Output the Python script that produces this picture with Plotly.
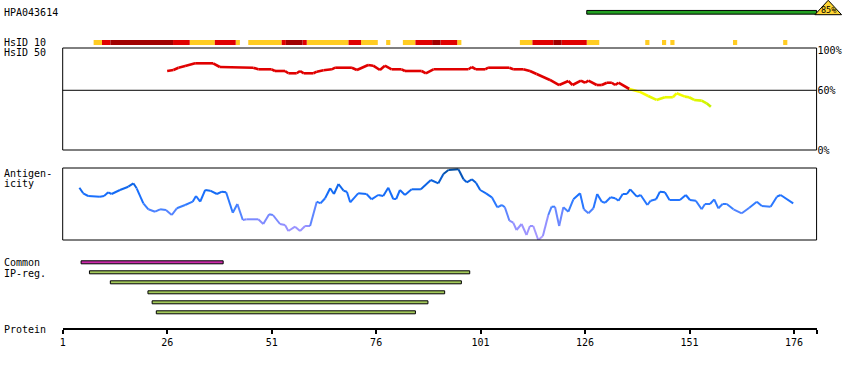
import plotly.graph_objects as go

# ---------------- data ----------------
PROTEIN_LENGTH = 181
TICK_VALUES = [1, 26, 51, 76, 101, 126, 151, 176]
TICK_LABELS = [str(v) for v in TICK_VALUES]

ANTIGEN_NAME = "HPA043614"
ANTIGEN_START = 126
ANTIGEN_END = 181
ANTIGEN_IDENTITY = "85%"

# HsID 10 track: segments (start, end residue) and identity level
HSID10_START = [8, 10, 12, 27, 31, 37, 42, 45, 53, 54, 58, 59, 69, 72, 78, 82, 85, 89, 91, 95,
                110, 113, 118, 120, 126, 140, 144, 146, 161, 173]
HSID10_END = [10, 12, 27, 31, 37, 42, 43, 53, 54, 58, 59, 69, 72, 76, 79, 85, 89, 91, 95, 96,
              113, 118, 120, 126, 129, 141, 145, 147, 162, 174]
HSID10_LEVEL = ["low", "mid", "high", "mid", "low", "mid", "low", "low", "mid", "high", "mid", "low",
                "mid", "low", "low", "low", "mid", "high", "mid", "low", "low", "mid", "high", "mid",
                "low", "low", "low", "low", "low", "low"]

# HsID 50 identity curve (%)
HSID50_RES = [26.0, 27.5, 28.7, 30.3, 32.7, 37.0, 38.6, 46.6, 47.8, 51.0, 51.8, 54.2, 55.0, 57.0,
              57.8, 58.7, 61.0, 61.8, 63.4, 65.4, 66.2, 70.2, 71.4, 74.1, 75.3, 76.9, 78.1, 79.7,
              82.1, 82.9, 86.9, 87.9, 89.7, 98.1, 98.9, 99.9, 102.1, 102.8, 107.9, 108.8, 111.2,
              112.8, 114.4, 117.6, 119.8, 122.0, 123.0, 125.0, 126.0, 126.8, 128.8, 130.0, 131.2,
              132.4, 133.2, 134.0, 136.6, 139.0, 141.1, 143.1, 145.1, 147.0, 147.9, 149.9, 150.9,
              152.1, 153.9, 155.1, 156.1]
HSID50_PCT = [79.4, 80.4, 82.7, 84.4, 87.1, 87.1, 83.4, 82.7, 81.1, 81.1, 79.4, 79.4, 77.1, 77.1,
              79.4, 77.1, 77.1, 78.7, 80.1, 81.1, 82.7, 82.7, 80.4, 85.4, 84.7, 80.4, 84.7, 81.1,
              81.1, 79.4, 79.4, 77.1, 81.1, 81.1, 83.4, 81.1, 81.1, 82.7, 82.7, 81.1, 81.1,
              79.4, 76.4, 70.4, 65.3, 69.3, 65.3, 69.7, 67.6, 69.7, 65.3, 65.3, 67.6,
              67.6, 65.3, 67.6, 61.3, 58.6, 54.3, 50.3, 53.0, 53.0, 57.0, 53.6, 53.0,
              50.3, 49.6, 46.9, 43.5]

# Antigenicity profile (arbitrary units, 0-72)
ANTIGENICITY_RES = [5.0, 5.9, 7.1, 9.9, 10.9, 11.9, 12.7, 14.7, 16.7, 17.9, 18.7, 20.3, 21.5, 23.1,
                    24.3, 25.7, 27.1, 28.3, 30.3, 32.1, 32.9, 33.9, 35.1, 36.3, 37.9, 39.1, 40.1,
                    41.7, 42.8, 44.1, 45.0, 47.8, 49.0, 50.4, 51.3, 53.0, 54.2, 55.0, 56.6, 57.8,
                    59.0, 60.2, 61.8, 62.7, 63.8, 65.0, 65.9, 67.0, 68.2, 69.0, 69.8, 71.7, 73.7,
                    74.9, 76.5, 77.7, 78.9, 80.1, 80.8, 81.7, 82.9, 84.5, 86.7, 89.1, 90.9, 92.1,
                    93.3, 95.7, 96.9, 97.7, 98.9, 99.9, 100.9, 102.3, 103.7, 105.0, 106.1, 106.8,
                    107.9, 108.8, 109.6, 110.8, 112.0, 112.8, 113.6, 114.8, 115.9, 117.2, 118.0,
                    118.8, 119.8, 120.8, 122.0, 123.2, 124.8, 125.7, 126.8, 128.0, 128.9, 130.0,
                    130.8, 132.1, 133.2, 134.0, 135.0, 136.0, 136.8, 138.4, 139.3, 140.9, 141.7,
                    143.0, 143.9, 145.1, 146.2, 148.7, 150.1, 151.1, 152.5, 153.9, 154.7, 155.9,
                    156.9, 157.9, 158.9, 159.9, 161.5, 163.5, 165.3, 167.1, 168.3, 170.4, 171.9,
                    172.8, 175.8]
ANTIGENICITY_VAL = [52.3, 46.7, 44.0, 43.3, 44.0, 47.7, 46.0, 50.0, 53.3, 56.7, 51.7, 36.7, 30.7, 28.3,
                    30.7, 30.0, 25.0, 31.7, 35.0, 38.3, 44.0, 38.3, 50.0, 49.3, 46.0, 48.3, 47.7,
                    27.3, 36.0, 20.0, 20.7, 20.7, 16.0, 25.7, 25.0, 16.0, 15.0, 9.0, 13.3, 9.0,
                    14.0, 14.0, 38.3, 36.7, 41.7, 51.7, 46.0, 56.0, 49.3, 48.3, 37.7, 46.7, 46.0,
                    40.7, 45.0, 44.0, 52.3, 41.0, 41.0, 50.0, 45.0, 50.7, 50.7, 60.0, 56.7, 66.0,
                    70.0, 70.7, 60.7, 57.7, 60.7, 57.3, 50.0, 46.7, 42.7, 32.7, 35.0, 32.7,
                    19.3, 17.3, 10.0, 16.0, 5.0, 14.0, 14.0, 0.0, 4.0, 25.0, 33.3,
                    33.3, 14.0, 32.7, 28.3, 40.7, 46.7, 30.7, 26.7, 31.7, 46.0, 38.3,
                    37.3, 42.7, 41.7, 39.3, 46.0, 46.0, 50.7, 43.3, 45.0, 35.0, 39.3,
                    40.7, 48.3, 47.7, 40.0, 40.0, 45.0, 40.0, 39.3, 30.7, 36.0, 36.0,
                    40.7, 31.7, 36.0, 36.0, 30.7, 26.7, 32.3, 38.3, 34.0, 33.3, 43.3,
                    45.0, 36.7]

# Common IP-regions
COMMON_START = [5]
COMMON_END = [39]
IPREG_START = [7, 12, 21, 22, 23]
IPREG_END = [98, 96, 92, 88, 85]

# ---------------- layout / style constants ----------------
W, H = 850, 370
X_LEFT_PX = 62.7      # pixel of residue 1
PX_PER_RES = 4.179
EDGE = 0.4            # residue-edge offset of drawn segments
FONT = "DejaVu Sans Mono"

HSID10_COLORS = {"low": "#FFCC22", "mid": "#E00000", "high": "#A00000"}
MAGENTA = "#CC2AAA"
LIGHT_GREEN = "#A3C95A"
ANTIGEN_GREEN = "#22A022"

# track rows (pixel units on the track axis)
ROW_ANTIGEN = 12.3
ROW_HSID10 = 42.5
ROW_COMMON = 262.3
ROW_STEP = 10

x_range = [1 - X_LEFT_PX / PX_PER_RES, 1 + (W - X_LEFT_PX) / PX_PER_RES]
ruler_end = PROTEIN_LENGTH + EDGE
ruler_right_px = X_LEFT_PX + (ruler_end - 1) * PX_PER_RES


def px_to_paper_y(py):
    return 1 - py / H


def lerp_color(stops, t):
    t = max(0.0, min(1.0, t))
    for (t0, c0), (t1, c1) in zip(stops[:-1], stops[1:]):
        if t <= t1:
            f = (t - t0) / (t1 - t0) if t1 > t0 else 0
            rgb = [round(a + (b - a) * f) for a, b in zip(c0, c1)]
            return "rgb({},{},{})".format(*rgb)
    c = stops[-1][1]
    return "rgb({},{},{})".format(*c)


AG_STOPS = [(0.0, (180, 160, 255)), (0.25, (138, 140, 255)), (0.45, (60, 128, 255)),
            (0.6, (26, 112, 255)), (0.8, (11, 98, 224)), (1.0, (0, 74, 154))]


def hsid_color(v):
    if v >= 60:
        return "#E00000"
    return lerp_color([(0.0, (185, 238, 0)), (1.0, (255, 255, 0))], (v - 42) / 16)


fig = go.Figure()

# ---- antigen bar ----
fig.add_trace(go.Bar(orientation="h", y=[ROW_ANTIGEN], base=[ANTIGEN_START + EDGE],
                     x=[ANTIGEN_END - ANTIGEN_START], width=[3.7],
                     marker=dict(color=ANTIGEN_GREEN, line=dict(color="black", width=1)),
                     xaxis="x", yaxis="y", hoverinfo="skip"))

# ---- HsID 10 ----
for lvl, col in HSID10_COLORS.items():
    idx = [i for i, l in enumerate(HSID10_LEVEL) if l == lvl]
    fig.add_trace(go.Bar(orientation="h",
                         y=[ROW_HSID10] * len(idx),
                         base=[HSID10_START[i] + EDGE for i in idx],
                         x=[HSID10_END[i] - HSID10_START[i] for i in idx],
                         width=[5] * len(idx),
                         marker=dict(color=col, line=dict(width=0)),
                         xaxis="x", yaxis="y", hoverinfo="skip"))

# ---- HsID 50 curve ----
for i in range(len(HSID50_RES) - 1):
    v = (HSID50_PCT[i] + HSID50_PCT[i + 1]) / 2
    fig.add_trace(go.Scatter(x=HSID50_RES[i:i + 2], y=HSID50_PCT[i:i + 2], mode="lines",
                             line=dict(color=hsid_color(v), width=2.6),
                             xaxis="x", yaxis="y2", hoverinfo="skip"))

# ---- Antigenicity curve ----
for i in range(len(ANTIGENICITY_RES) - 1):
    v = (ANTIGENICITY_VAL[i] + ANTIGENICITY_VAL[i + 1]) / 2
    fig.add_trace(go.Scatter(x=ANTIGENICITY_RES[i:i + 2], y=ANTIGENICITY_VAL[i:i + 2],
                             mode="lines", line=dict(color=lerp_color(AG_STOPS, v / 72), width=2),
                             xaxis="x", yaxis="y3", hoverinfo="skip"))

# ---- Common IP-regions ----
fig.add_trace(go.Bar(orientation="h", y=[ROW_COMMON] * len(COMMON_START),
                     base=[s + EDGE for s in COMMON_START],
                     x=[e - s for s, e in zip(COMMON_START, COMMON_END)],
                     width=[3] * len(COMMON_START),
                     marker=dict(color=MAGENTA, line=dict(color="black", width=1)),
                     xaxis="x", yaxis="y", hoverinfo="skip"))
fig.add_trace(go.Bar(orientation="h",
                     y=[ROW_COMMON + ROW_STEP * (i + 1) for i in range(len(IPREG_START))],
                     base=[s + EDGE for s in IPREG_START],
                     x=[e - s for s, e in zip(IPREG_START, IPREG_END)],
                     width=[3] * len(IPREG_START),
                     marker=dict(color=LIGHT_GREEN, line=dict(color="black", width=1)),
                     xaxis="x", yaxis="y", hoverinfo="skip"))

# dummy trace so the ruler axis is drawn
fig.add_trace(go.Scatter(x=[1], y=[-1000], mode="markers", marker=dict(opacity=0),
                         xaxis="x2", yaxis="y", hoverinfo="skip"))

shapes = [
    # HsID 50 box and 60% line
    dict(type="rect", xref="x", yref="y2 domain", x0=1, x1=ruler_end, y0=0, y1=1,
         line=dict(color="black", width=1)),
    dict(type="line", xref="x", yref="y2", x0=1, x1=ruler_end, y0=60, y1=60,
         line=dict(color="black", width=1)),
    # antigenicity box
    dict(type="rect", xref="x", yref="y3 domain", x0=1, x1=ruler_end, y0=0, y1=1,
         line=dict(color="black", width=1)),
    # identity triangle at the antigen end
    dict(type="path", xref="x", yref="y", xsizemode="pixel", xanchor=ANTIGEN_END + EDGE,
         path="M -1.7,14.7 L 25,14.7 L 11.6,0.3 Z",
         fillcolor="#FFD633", line=dict(color="black", width=1), layer="above"),
]

annotations = []
for text, px, py in [(ANTIGEN_NAME, 2, 12.7), ("HsID 10", 2, 42.3), ("HsID 50", 2, 52.3),
                     ("Antigen-", 2, 173.0), ("icity", 2, 183.3), ("Common", 2, 262.7),
                     ("IP-reg.", 2, 273.3), ("Protein", 2, 329.3)]:
    annotations.append(dict(text=text, x=px / W, y=px_to_paper_y(py), xref="paper", yref="paper",
                            xanchor="left", yanchor="middle", showarrow=False,
                            font=dict(family=FONT, size=10, color="black")))
annotations.append(dict(text=ANTIGEN_IDENTITY, x=ANTIGEN_END + EDGE, xshift=11.6, y=10,
                        xref="x", yref="y", xanchor="center", yanchor="middle",
                        showarrow=False, font=dict(family=FONT, size=8.5, color="black")))

fig.update_layout(
    width=W, height=H, margin=dict(l=0, r=0, t=0, b=0, autoexpand=False),
    paper_bgcolor="white", plot_bgcolor="rgba(0,0,0,0)", showlegend=False, barmode="overlay",
    xaxis=dict(domain=[0, 1], range=x_range, visible=False, fixedrange=True),
    xaxis2=dict(domain=[X_LEFT_PX / W, ruler_right_px / W],
                range=[1, ruler_end], anchor="free", position=px_to_paper_y(329.3),
                showline=True, linecolor="black", linewidth=2, showgrid=False, zeroline=False,
                ticks="outside", ticklen=4, tickwidth=2, tickcolor="black",
                tickvals=TICK_VALUES + [ruler_end], ticktext=TICK_LABELS + [""],
                tickfont=dict(family=FONT, size=10, color="black")),
    yaxis=dict(domain=[0, 1], range=[H, 0], visible=False),
    yaxis2=dict(domain=[px_to_paper_y(150), px_to_paper_y(48)], range=[0, 102.5],
                anchor="free", position=ruler_right_px / W,
                side="right", showgrid=False, zeroline=False, showline=False, ticks="",
                tickvals=[0, 60, 100], ticktext=["0%", "60%", "100%"],
                tickfont=dict(family=FONT, size=10, color="black")),
    yaxis3=dict(domain=[px_to_paper_y(240), px_to_paper_y(168)], range=[0, 72],
                anchor="x", visible=False),
    shapes=shapes, annotations=annotations,
)

fig.write_html("out.html", config={"displayModeBar": False},
               post_script="document.body.style.margin='0px';")
